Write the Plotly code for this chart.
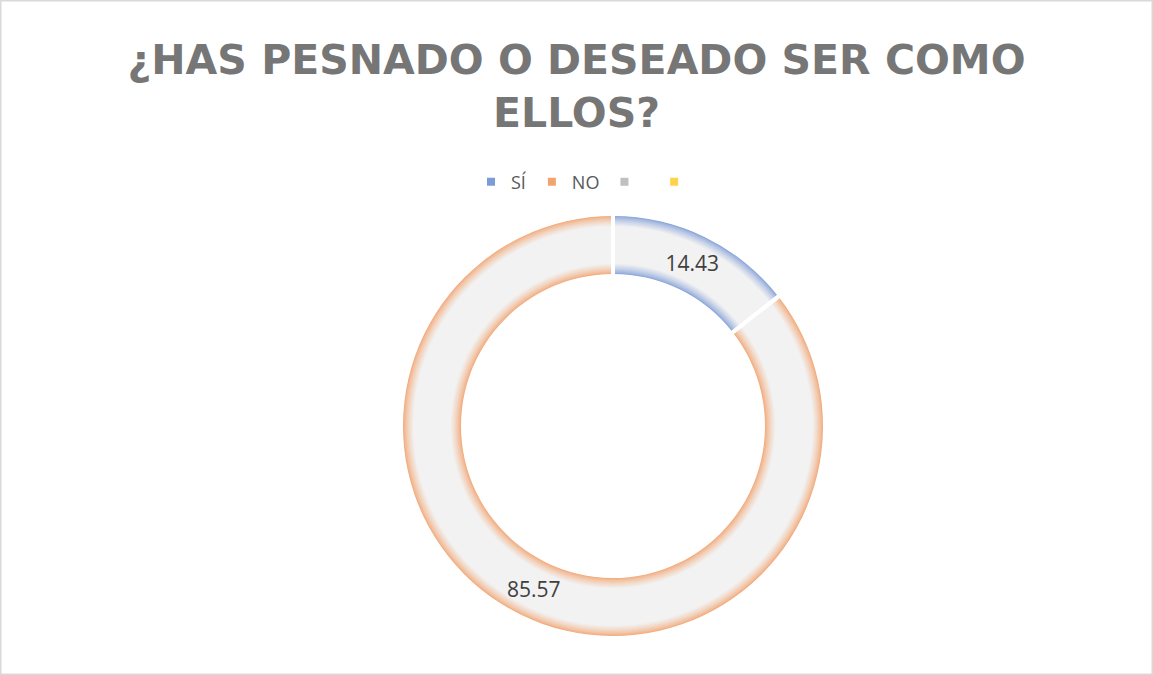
import plotly.graph_objects as go

# ---- data ----
categories = ["SÍ", "NO"]
values = [14.43, 85.57]
value_labels = ["14.43", "85.57"]
legend_names = ["SÍ", "NO", " ", "  "]
legend_colors = ["#7c9cd6", "#f2a46f", "#c0c0c0", "#ffd34d"]
edge_colors = [(140, 166, 218), (242, 172, 126)]   # glow colour at slice edge
fill_color = (242, 242, 242)
title_text = "¿HAS PESNADO O DESEADO SER COMO<br>ELLOS?"

# ---- layout geometry (pixels) ----
W, H = 1153, 675
CX, CY = 613, 426          # donut centre
R_OUT, R_IN = 210, 152     # ring radii


def domain(r):
    return dict(x=[(CX - r) / W, (CX + r) / W],
                y=[(H - CY - r) / H, (H - CY + r) / H])


def mix(c1, c2, t):
    return "rgb(%d,%d,%d)" % tuple(round(a + (b - a) * t) for a, b in zip(c1, c2))


fig = go.Figure()

# concentric layers: soft coloured glow along the ring edges
N, STEP = 12, 0.85
for k in range(N + 1):
    t = (k / N) ** 0.75
    ro, ri = R_OUT - k * STEP, R_IN + k * STEP
    fig.add_trace(go.Pie(
        labels=categories, values=values, sort=False, direction="clockwise", rotation=0,
        showlegend=False, hoverinfo="skip", textinfo="none",
        domain=domain(ro), hole=ri / ro,
        marker=dict(colors=[mix(c, fill_color, t) for c in edge_colors],
                    line=dict(width=0)),
    ))

# white gaps between slices + value labels
R_GAP_OUT, R_GAP_IN = 218, 144
fig.add_trace(go.Pie(
    labels=categories, values=values, sort=False, direction="clockwise", rotation=0,
    showlegend=False, hoverinfo="skip",
    domain=domain(R_GAP_OUT), hole=R_GAP_IN / R_GAP_OUT,
    marker=dict(colors=["rgba(0,0,0,0)"] * 2, line=dict(color="white", width=4)),
    text=value_labels, textinfo="text", textposition="inside",
    insidetextorientation="horizontal",
    textfont=dict(family="Open Sans", size=21, color="#404040"),
))

# legend entries
for name, col in zip(legend_names, legend_colors):
    fig.add_trace(go.Scatter(x=[None], y=[None], mode="markers", name=name,
                             marker=dict(symbol="square", size=8, color=col)))

shapes = [
    dict(type="rect", xref="paper", yref="paper", x0=0, x1=1, y0=0, y1=1,
         line=dict(color="#d9d9d9", width=3), fillcolor="rgba(0,0,0,0)", layer="above"),
]

fig.update_layout(
    width=W, height=H,
    margin=dict(l=0, r=0, t=0, b=0),
    paper_bgcolor="white", plot_bgcolor="white",
    title=dict(text=title_text, x=0.5, xanchor="center", y=1 - 74 / H, yanchor="middle",
               font=dict(family="DejaVu Sans", size=41, color="#767676", weight="bold")),
    legend=dict(orientation="h", x=590 / W, xanchor="center", y=1 - 182 / H, yanchor="middle",
                font=dict(family="Open Sans", size=18, color="#595959"),
                bgcolor="rgba(0,0,0,0)"),
    xaxis=dict(visible=False), yaxis=dict(visible=False),
    shapes=shapes,
)

fig.write_html("out.html", config={"displayModeBar": False},
               post_script="document.body.style.margin='0';")
